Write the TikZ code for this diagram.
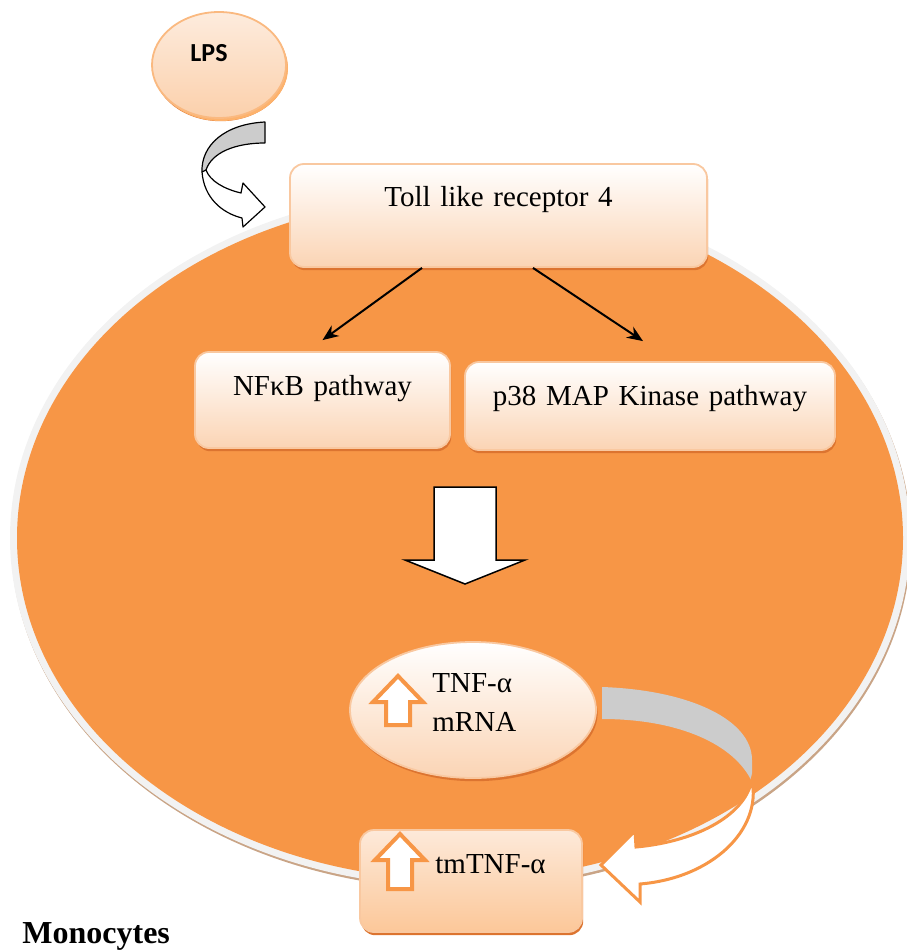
\documentclass[tikz,border=0pt]{standalone}
\usepackage{fontspec}
\setmainfont{Liberation Serif}
\newfontfamily\lpsfont{Carlito}
\usetikzlibrary{shapes.geometric,shadows,arrows.meta}

\definecolor{cellorange}{HTML}{F79646}
\definecolor{rimgray}{HTML}{F2F2F2}
\definecolor{rimshade}{HTML}{C9A486}
\definecolor{peach}{HTML}{FBD4B4}
\definecolor{peachedge}{HTML}{F9C8A0}
\definecolor{boxshade}{HTML}{DC7430}
\definecolor{ribbon}{HTML}{CCCCCC}

\tikzset{
  txt/.style={inner sep=0pt,font=\fontsize{14.5}{19.5}\selectfont},
  pathbox/.style={draw=peachedge,line width=0.9pt,rounded corners=7pt,
    top color=white,bottom color=peach,inner sep=0pt,align=center,txt,
    drop shadow={shadow xshift=0.6pt,shadow yshift=-1.6pt,fill=boxshade,opacity=1}},
  blob/.style={ellipse,draw=peachedge,line width=0.9pt,inner sep=0pt,
    top color=white,bottom color=peach,
    drop shadow={shadow xshift=0.8pt,shadow yshift=-1.6pt,fill=boxshade,opacity=1}},
  thinarrow/.style={-{Stealth[length=8pt,width=6.5pt]},line width=1pt},
  upmark/.style={draw=cellorange,line width=2pt,fill=white,line join=miter},
}

\begin{document}
\begin{tikzpicture}[x=0.5pt,y=-0.5pt]
\useasboundingbox (0,0) rectangle (906,952);

\fill[rimgray,drop shadow={shadow xshift=0.5pt,shadow yshift=-1.2pt,fill=rimshade,opacity=1}]
  (460,538) ellipse [x radius=450,y radius=349];
\fill[cellorange] (460,538) ellipse [x radius=443,y radius=342];

\node[blob,minimum width=67pt,minimum height=53pt,draw=peachedge!80!orange,
  top color=peach!45,bottom color=peach!95!orange,
  drop shadow={shadow xshift=1pt,shadow yshift=-1.5pt,fill=peach!60!orange,opacity=1}] (lps) at (219,65) {};
\node[inner sep=0pt,anchor=base,font=\lpsfont\bfseries\fontsize{13}{15}\selectfont] (lpstxt) at (209,62) {LPS};

\fill[white] (265,122) .. controls (225,124) and (201,145) .. (202,172)
  .. controls (204,198) and (222,213) .. (242,218) -- (243,227) -- (265,207) -- (243,183) -- (241,193)
  .. controls (224,189) and (210,181) .. (206,170) .. controls (212,152) and (236,143) .. (265,143) -- cycle;
\fill[ribbon] (265,122) .. controls (225,124) and (201,145) .. (202,172) -- (206,170)
  .. controls (212,152) and (236,143) .. (265,143) -- cycle;
\draw[line width=0.6pt,line join=round] (265,122) .. controls (225,124) and (201,145) .. (202,172)
  .. controls (204,198) and (222,213) .. (242,218) -- (243,227) -- (265,207) -- (243,183) -- (241,193)
  .. controls (224,189) and (210,181) .. (206,170) .. controls (212,152) and (236,143) .. (265,143) -- cycle;
\draw[line width=0.6pt] (202,172) -- (206,170);

\node[pathbox,text width=208.5pt,text height=21pt,text depth=30.5pt] (tlr) at (498.5,215.5) {Toll like receptor 4};
\node[pathbox,text width=127.5pt,text height=21.5pt,text depth=26.5pt] (nfkb) at (322.5,400) {NFκB pathway};
\node[pathbox,text width=185pt,text height=21.5pt,text depth=22.5pt] (ptt) at (650,406) {p38 MAP Kinase pathway};

\draw[thinarrow] ([xshift=-38.25pt]tlr.south) -- ([yshift=5.5pt]nfkb.north);
\draw[thinarrow] ([xshift=17.25pt]tlr.south) -- ([xshift=-3.5pt,yshift=10pt]ptt.north);

\draw[line width=0.75pt,fill=white] (434,487) -- (496,487) -- (496,560) -- (525,560) -- (465,584)
  -- (405,560) -- (434,560) -- cycle;

\node[blob,minimum width=123pt,minimum height=68pt] (mrna) at (473,710) {};
\node[txt,anchor=base west] (tnfa) at (432,692) {TNF-α};
\node[txt,anchor=base west] (tnfb) at (432,731) {mRNA};

\fill[ribbon] (602,687) .. controls (690,690) and (752,720) .. (752,760) -- (752,782)
  .. controls (735,745) and (680,719) .. (602,719) -- cycle;
\draw[cellorange,line width=1.5pt,fill=white,line join=miter] (752,780) .. controls (762,830) and (712,878) .. (640,884)
  -- (640,902) -- (601,865) -- (635,831) -- (636,847) .. controls (692,842) and (744,818) .. (752,780) -- cycle;

\node[pathbox,minimum width=111pt,minimum height=51pt,draw=peachedge,
  top color=peach!50,bottom color=peach!85!orange] (tmtnf) at (471,881) {};
\node[txt,anchor=base west] (tmtxt) at (435,873) {tmTNF-α};

\foreach \tx/\ty/\tb in {398/676/725, 400/834/889}
  \draw[upmark] (\tx,\ty) -- (\tx+25,\ty+26) -- (\tx+12,\ty+26) -- (\tx+12,\tb) -- (\tx-12,\tb)
    -- (\tx-12,\ty+26) -- (\tx-25,\ty+26) -- cycle;

\node[inner sep=0pt,anchor=base west,font=\bfseries\fontsize{16}{19}\selectfont] (mono) at (22,943) {Monocytes};
\end{tikzpicture}
\end{document}
